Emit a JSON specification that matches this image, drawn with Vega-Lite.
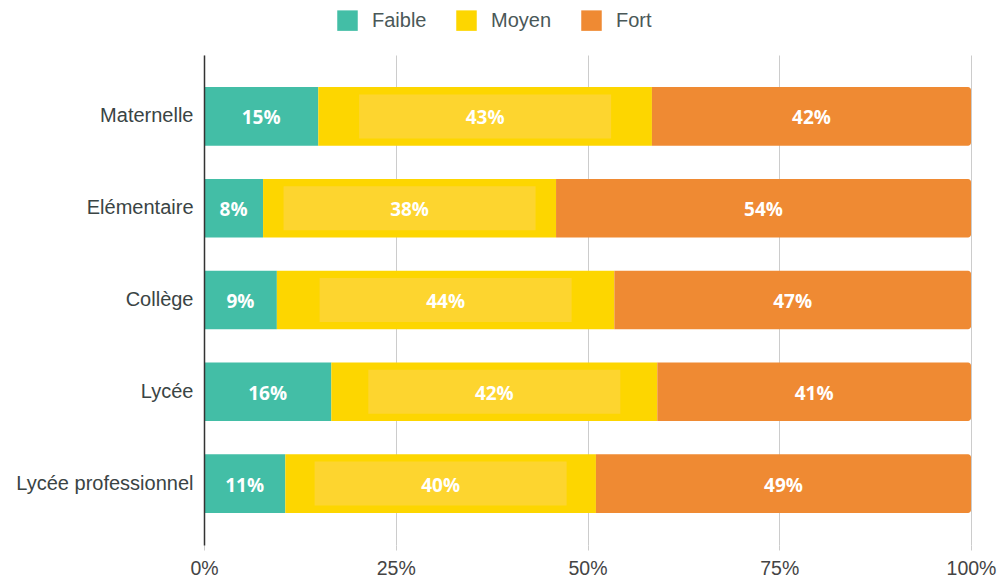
{
  "$schema": "https://vega.github.io/schema/vega-lite/v6.json",
  "width": 767,
  "height": 490,
  "autosize": {"type": "none"},
  "padding": {"left": 204, "top": 55, "right": 28, "bottom": 33},
  "background": "white",
  "config": {"view": {"stroke": null}},
  "data": {
    "values": [
      {"niveau": "Maternelle", "categorie": "Faible", "valeur": 14.9, "etiquette": "15%"},
      {"niveau": "Maternelle", "categorie": "Moyen", "valeur": 43.5, "etiquette": "43%"},
      {"niveau": "Maternelle", "categorie": "Fort", "valeur": 41.6, "etiquette": "42%"},
      {"niveau": "Elémentaire", "categorie": "Faible", "valeur": 7.7, "etiquette": "8%"},
      {"niveau": "Elémentaire", "categorie": "Moyen", "valeur": 38.2, "etiquette": "38%"},
      {"niveau": "Elémentaire", "categorie": "Fort", "valeur": 54.1, "etiquette": "54%"},
      {"niveau": "Collège", "categorie": "Faible", "valeur": 9.5, "etiquette": "9%"},
      {"niveau": "Collège", "categorie": "Moyen", "valeur": 44.0, "etiquette": "44%"},
      {"niveau": "Collège", "categorie": "Fort", "valeur": 46.5, "etiquette": "47%"},
      {"niveau": "Lycée", "categorie": "Faible", "valeur": 16.6, "etiquette": "16%"},
      {"niveau": "Lycée", "categorie": "Moyen", "valeur": 42.5, "etiquette": "42%"},
      {"niveau": "Lycée", "categorie": "Fort", "valeur": 40.9, "etiquette": "41%"},
      {"niveau": "Lycée professionnel", "categorie": "Faible", "valeur": 10.6, "etiquette": "11%"},
      {"niveau": "Lycée professionnel", "categorie": "Moyen", "valeur": 40.5, "etiquette": "40%"},
      {"niveau": "Lycée professionnel", "categorie": "Fort", "valeur": 48.9, "etiquette": "49%"}
    ]
  },
  "transform": [
    {"calculate": "indexof(['Faible','Moyen','Fort'], datum.categorie)", "as": "ordre"},
    {"stack": "valeur", "groupby": ["niveau"], "sort": [{"field": "ordre", "order": "ascending"}], "offset": "normalize", "as": ["x0", "x1"]},
    {"calculate": "(datum.x0 + datum.x1) / 2", "as": "xm"}
  ],
  "encoding": {
    "y": {
      "field": "niveau",
      "type": "nominal",
      "sort": ["Maternelle", "Elémentaire", "Collège", "Lycée", "Lycée professionnel"],
      "scale": {"paddingInner": 0.36, "paddingOuter": 0.35},
      "axis": {
        "title": null,
        "ticks": false,
        "domainColor": "#333333",
        "domainWidth": 1.5,
        "labelFont": "Liberation Sans",
        "labelFontSize": 20,
        "labelColor": "#3a4444",
        "labelPadding": 11,
        "zindex": 1
      }
    }
  },
  "layer": [
    {
      "transform": [{"filter": "datum.categorie != 'Fort'"}],
      "mark": {"type": "bar"},
      "encoding": {
        "x": {
          "field": "x0",
          "type": "quantitative",
          "scale": {"domain": [0, 1], "nice": false},
          "axis": {
            "title": null,
            "values": [0, 0.25, 0.5, 0.75, 1],
            "format": ".0%",
            "domain": false,
            "grid": true,
            "gridColor": "#cccccc",
            "tickColor": "#cccccc",
            "tickSize": 5,
            "labelPadding": 9,
            "labelFont": "Liberation Sans",
            "labelFontSize": 19.5,
            "labelColor": "#444444",
            "labelFlush": false
          }
        },
        "x2": {"field": "x1"},
        "color": {
          "field": "categorie",
          "type": "nominal",
          "scale": {"domain": ["Faible", "Moyen", "Fort"], "range": ["#43BEA6", "#FDD600", "#EF8A33"]},
          "legend": {
            "title": null,
            "orient": "none",
            "direction": "horizontal",
            "legendX": 133,
            "legendY": -45,
            "symbolType": "square",
            "symbolSize": 420,
            "symbolStrokeWidth": 0,
            "symbolOpacity": 1,
            "labelFont": "Liberation Sans",
            "labelFontSize": 20,
            "labelColor": "#4a5858",
            "labelOffset": 14,
            "columnPadding": 29
          }
        }
      }
    },
    {
      "transform": [{"filter": "datum.categorie == 'Fort'"}],
      "mark": {"type": "bar", "cornerRadiusTopRight": 3, "cornerRadiusBottomRight": 3},
      "encoding": {
        "x": {"field": "x0", "type": "quantitative"},
        "x2": {"field": "x1"},
        "color": {"field": "categorie", "type": "nominal"}
      }
    },
    {
      "transform": [{"filter": "datum.categorie == 'Moyen'"}],
      "mark": {"type": "point", "shape": "M-1,-0.175L1,-0.175L1,0.175L-1,0.175Z", "filled": true, "size": 63504, "color": "#FDD52F", "opacity": 1, "strokeWidth": 0},
      "encoding": {
        "x": {"field": "xm", "type": "quantitative"}
      }
    },
    {
      "mark": {"type": "text", "font": "Open Sans", "fontWeight": "bold", "fontSize": 19, "color": "white", "dy": 2},
      "encoding": {
        "x": {"field": "xm", "type": "quantitative"},
        "text": {"field": "etiquette"}
      }
    }
  ]
}
